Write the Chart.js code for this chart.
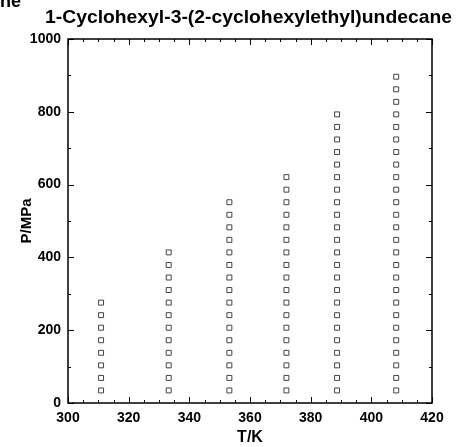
<!DOCTYPE html>
<html>
<head>
<meta charset="utf-8">
<title>1-Cyclohexyl-3-(2-cyclohexylethyl)undecane</title>
<script src="https://cdn.jsdelivr.net/npm/chart.js@4/dist/chart.umd.min.js"></script>
<style>
  body { margin: 0; background: #fff; }
  #wrap { width: 456px; height: 447px; position: relative; }
</style>
</head>
<body>
<div id="wrap"><canvas id="myChart"></canvas></div>
<script>
// isotherm temperatures (K)
var temps = [310.9, 333.2, 353.2, 372.0, 388.7, 408.2];
// pressures measured on each isotherm (MPa), steps of 34.47 MPa
var p310 = [34.5, 68.9, 103.4, 137.9, 172.4, 206.8, 241.3, 275.8];
var p333 = [34.5, 68.9, 103.4, 137.9, 172.4, 206.8, 241.3, 275.8, 310.3, 344.7, 379.2, 413.7];
var p353 = [34.5, 68.9, 103.4, 137.9, 172.4, 206.8, 241.3, 275.8, 310.3, 344.7, 379.2, 413.7,
            448.2, 482.6, 517.1, 551.6];
var p372 = [34.5, 68.9, 103.4, 137.9, 172.4, 206.8, 241.3, 275.8, 310.3, 344.7, 379.2, 413.7,
            448.2, 482.6, 517.1, 551.6, 586.1, 620.5];
var p389 = [34.5, 68.9, 103.4, 137.9, 172.4, 206.8, 241.3, 275.8, 310.3, 344.7, 379.2, 413.7,
            448.2, 482.6, 517.1, 551.6, 586.1, 620.5, 655.0, 689.5, 724.0, 758.4, 792.9];
var p408 = [34.5, 68.9, 103.4, 137.9, 172.4, 206.8, 241.3, 275.8, 310.3, 344.7, 379.2, 413.7,
            448.2, 482.6, 517.1, 551.6, 586.1, 620.5, 655.0, 689.5, 724.0, 758.4, 792.9, 827.4,
            861.8, 896.3];
var pressures = [p310, p333, p353, p372, p389, p408];

var xTicks = [300, 320, 340, 360, 380, 400, 420];
var yTicks = [0, 200, 400, 600, 800, 1000];

var points = [];
temps.forEach(function (t, i) {
    pressures[i].forEach(function (p) { points.push({x: t, y: p}); });
});

var FONT = '"Liberation Sans", Arial, sans-serif';
var TITLE = '1-Cyclohexyl-3-(2-cyclohexylethyl)undecane';

// frame, inward ticks, title and the clipped caption fragment
var framePlugin = {
    id: 'frame',
    afterDraw: function (chart) {
        var ctx = chart.ctx, a = chart.chartArea;
        var xs = chart.scales.x, ys = chart.scales.y;
        ctx.save();
        ctx.strokeStyle = '#000';
        ctx.lineWidth = 1.5;
        ctx.strokeRect(a.left, a.top, a.right - a.left, a.bottom - a.top);
        ctx.lineWidth = 1;
        ctx.beginPath();
        for (var v = 300; v <= 420; v += 5) {
            var px = Math.round(xs.getPixelForValue(v)) + 0.5;
            var len = (v % 20 === 0) ? 6 : 3;
            ctx.moveTo(px, a.bottom); ctx.lineTo(px, a.bottom - len);
            ctx.moveTo(px, a.top); ctx.lineTo(px, a.top + len);
        }
        for (var w = 0; w <= 1000; w += 100) {
            var py = Math.round(ys.getPixelForValue(w)) + 0.5;
            var l2 = (w % 200 === 0) ? 6 : 3;
            ctx.moveTo(a.left, py); ctx.lineTo(a.left + l2, py);
            ctx.moveTo(a.right, py); ctx.lineTo(a.right - l2, py);
        }
        ctx.stroke();

        ctx.fillStyle = '#000';
        ctx.textAlign = 'left';
        ctx.textBaseline = 'alphabetic';
        ctx.font = 'bold 18px ' + FONT;
        ctx.fillText('ne', 0, 7);
        // the scanned title runs from x=45 to x=452, slightly wide for its height
        ctx.font = 'bold 19px ' + FONT;
        ctx.setTransform(1.017, 0, 0, 1, 45, 23);
        ctx.fillText(TITLE, 0, 0);
        ctx.setTransform(1, 0, 0, 1, 0, 0);
        ctx.restore();
    }
};

var ctx = document.getElementById('myChart').getContext('2d');
new Chart(ctx, {
    type: 'scatter',
    data: {
        datasets: [{
            data: points,
            pointStyle: 'rect',
            pointRadius: 3.5,
            pointBackgroundColor: '#fff',
            pointBorderColor: '#444',
            pointBorderWidth: 1
        }]
    },
    options: {
        responsive: true,
        maintainAspectRatio: false,
        animation: false,
        devicePixelRatio: 1,
        layout: { padding: { top: 39, right: 24, left: 0, bottom: 0 } },
        plugins: { legend: { display: false }, tooltip: { enabled: false } },
        scales: {
            x: {
                type: 'linear', min: 300, max: 420,
                afterBuildTicks: function (s) { s.ticks = xTicks.map(function (v) { return {value: v}; }); },
                afterFit: function (s) { s.height = 44; },
                grid: { display: false, drawTicks: false },
                border: { display: false },
                ticks: { color: '#000', padding: 7, maxRotation: 0,
                         callback: function (v) { return String(v); },
                         font: { family: FONT, size: 14, weight: 'bold' } },
                title: { display: true, text: 'T/K', color: '#000', padding: 0,
                         font: { family: FONT, size: 16, weight: 'bold' } }
            },
            y: {
                type: 'linear', min: 0, max: 1000,
                afterBuildTicks: function (s) { s.ticks = yTicks.map(function (v) { return {value: v}; }); },
                afterFit: function (s) { s.width = 68; },
                grid: { display: false, drawTicks: false },
                border: { display: false },
                ticks: { color: '#000', padding: 7,
                         callback: function (v) { return String(v); },
                         font: { family: FONT, size: 14, weight: 'bold' } },
                title: { display: true, text: 'P/MPa', color: '#000', padding: { top: 18, bottom: 0 },
                         font: { family: FONT, size: 15, weight: 'bold' } }
            }
        }
    },
    plugins: [framePlugin]
});
</script>
</body>
</html>
